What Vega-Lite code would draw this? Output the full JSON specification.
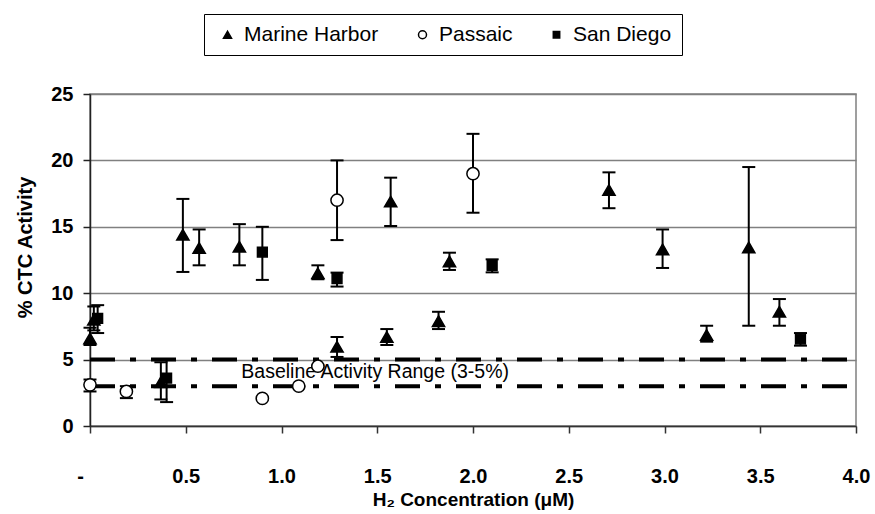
{
  "$schema": "https://vega.github.io/schema/vega-lite/v6.json",
  "width": 766,
  "height": 332,
  "autosize": "none",
  "padding": {"left": 90, "top": 94, "right": 19, "bottom": 88},
  "background": "white",
  "config": {
    "view": {"stroke": "#808080", "strokeWidth": 1.5},
    "font": "Liberation Sans"
  },
  "datasets": {
    "pts": [
      {"series": "Marine Harbor", "x": 0.0, "y": 6.6, "lo": 6.1, "hi": 7.4},
      {"series": "Marine Harbor", "x": 0.02, "y": 8.0, "lo": 7.2, "hi": 9.0},
      {"series": "Marine Harbor", "x": 0.37, "y": 3.3, "lo": 2.0, "hi": 4.8},
      {"series": "Marine Harbor", "x": 0.485, "y": 14.4, "lo": 11.6, "hi": 17.1},
      {"series": "Marine Harbor", "x": 0.57, "y": 13.4, "lo": 12.1, "hi": 14.8},
      {"series": "Marine Harbor", "x": 0.78, "y": 13.5, "lo": 12.1, "hi": 15.2},
      {"series": "Marine Harbor", "x": 1.19, "y": 11.5, "lo": 11.05, "hi": 12.1},
      {"series": "Marine Harbor", "x": 1.29, "y": 5.97, "lo": 5.2, "hi": 6.7},
      {"series": "Marine Harbor", "x": 1.55, "y": 6.7, "lo": 6.1, "hi": 7.3},
      {"series": "Marine Harbor", "x": 1.57, "y": 16.9, "lo": 15.06, "hi": 18.7},
      {"series": "Marine Harbor", "x": 1.82, "y": 7.9, "lo": 7.3, "hi": 8.6},
      {"series": "Marine Harbor", "x": 1.877, "y": 12.4, "lo": 11.75, "hi": 13.05},
      {"series": "Marine Harbor", "x": 2.71, "y": 17.77, "lo": 16.4, "hi": 19.1},
      {"series": "Marine Harbor", "x": 2.99, "y": 13.3, "lo": 11.9, "hi": 14.8},
      {"series": "Marine Harbor", "x": 3.22, "y": 6.85, "lo": 6.35, "hi": 7.55},
      {"series": "Marine Harbor", "x": 3.44, "y": 13.45, "lo": 7.55, "hi": 19.5},
      {"series": "Marine Harbor", "x": 3.6, "y": 8.6, "lo": 7.55, "hi": 9.56},
      {"series": "Passaic", "x": 0.0, "y": 3.1, "lo": 2.6, "hi": 3.5},
      {"series": "Passaic", "x": 0.19, "y": 2.6, "lo": 2.1, "hi": 3.0},
      {"series": "Passaic", "x": 0.9, "y": 2.08, "lo": 2.0, "hi": 2.15},
      {"series": "Passaic", "x": 1.09, "y": 3.0, "lo": 2.95, "hi": 3.05},
      {"series": "Passaic", "x": 1.19, "y": 4.5, "lo": 4.45, "hi": 4.55},
      {"series": "Passaic", "x": 1.29, "y": 17.0, "lo": 14.0, "hi": 20.0},
      {"series": "Passaic", "x": 2.0, "y": 19.0, "lo": 16.06, "hi": 22.0},
      {"series": "San Diego", "x": 0.04, "y": 8.1, "lo": 7.0, "hi": 9.1},
      {"series": "San Diego", "x": 0.4, "y": 3.6, "lo": 1.8, "hi": 5.0},
      {"series": "San Diego", "x": 0.9, "y": 13.1, "lo": 11.0, "hi": 15.0},
      {"series": "San Diego", "x": 1.29, "y": 11.1, "lo": 10.5, "hi": 11.55},
      {"series": "San Diego", "x": 2.1, "y": 12.1, "lo": 11.57, "hi": 12.55},
      {"series": "San Diego", "x": 3.71, "y": 6.55, "lo": 6.05, "hi": 7.0}
    ],
    "baseline": [{"y": 3}, {"y": 5}],
    "note": [{"x": 0.79, "y": 4.1, "text": "Baseline Activity Range (3-5%)"}]
  },
  "layer": [
    {
      "data": {"name": "baseline"},
      "mark": {"type": "rule", "color": "black", "strokeWidth": 4, "strokeDash": [25, 15, 6, 15]},
      "encoding": {
        "y": {"field": "y", "type": "quantitative", "scale": {"domain": [0, 25], "nice": false}},
        "x": {"datum": 0, "type": "quantitative", "scale": {"domain": [0, 4], "nice": false}},
        "x2": {"datum": 4}
      }
    },
    {
      "data": {"name": "note"},
      "mark": {"type": "text", "align": "left", "baseline": "middle", "fontSize": 19.5, "color": "black", "font": "Liberation Sans"},
      "encoding": {
        "x": {"field": "x", "type": "quantitative"},
        "y": {"field": "y", "type": "quantitative"},
        "text": {"field": "text"}
      }
    },
    {
      "data": {"name": "pts"},
      "mark": {"type": "rule", "color": "black", "strokeWidth": 2},
      "encoding": {
        "x": {"field": "x", "type": "quantitative"},
        "y": {"field": "lo", "type": "quantitative"},
        "y2": {"field": "hi"}
      }
    },
    {
      "data": {"name": "pts"},
      "mark": {"type": "tick", "orient": "horizontal", "color": "black", "size": 13, "thickness": 2, "opacity": 1},
      "encoding": {
        "x": {"field": "x", "type": "quantitative"},
        "y": {"field": "lo", "type": "quantitative"}
      }
    },
    {
      "data": {"name": "pts"},
      "mark": {"type": "tick", "orient": "horizontal", "color": "black", "size": 13, "thickness": 2, "opacity": 1},
      "encoding": {
        "x": {"field": "x", "type": "quantitative"},
        "y": {"field": "hi", "type": "quantitative"}
      }
    },
    {
      "data": {"name": "pts"},
      "mark": {"type": "point", "strokeWidth": 1.5, "size": 150, "opacity": 1, "fillOpacity": 1, "strokeOpacity": 1},
      "encoding": {
        "x": {
          "field": "x", "type": "quantitative",
          "scale": {"domain": [0, 4], "nice": false},
          "axis": {
            "title": "H₂ Concentration (μM)",
            "values": [0, 0.5, 1, 1.5, 2, 2.5, 3, 3.5, 4],
            "labelExpr": "datum.value === 0 ? '-' : format(datum.value, '.1f')",
            "labelOffset": {"condition": {"test": "datum.value === 0", "value": -10}, "value": 0},
            "grid": false,
            "labelFontSize": 20, "labelFontWeight": "bold", "labelColor": "black",
            "labelBaseline": "alphabetic", "labelPadding": 49, "labelFlush": false, "labelOverlap": false,
            "tickSize": 7, "tickColor": "#333333", "tickWidth": 1.5,
            "domainColor": "#333333", "domainWidth": 1.5,
            "titleFontSize": 19, "titleFontWeight": "bold", "titleColor": "black",
            "titleBaseline": "alphabetic", "titleY": 79
          }
        },
        "y": {
          "field": "y", "type": "quantitative",
          "scale": {"domain": [0, 25], "nice": false},
          "axis": {
            "title": "% CTC Activity",
            "values": [0, 5, 10, 15, 20, 25],
            "grid": true, "gridColor": "#808080", "gridWidth": 1.5,
            "labelFontSize": 20, "labelFontWeight": "bold", "labelColor": "black", "labelPadding": 10,
            "tickSize": 7, "tickColor": "#222222", "tickWidth": 1.5,
            "domainColor": "#222222", "domainWidth": 1.5,
            "titleFontSize": 20, "titleFontWeight": "bold", "titleColor": "black",
            "titleAngle": 270, "titleBaseline": "alphabetic", "titleAlign": "center",
            "titleX": -59, "titleY": 153
          }
        },
        "shape": {
          "field": "series", "type": "nominal",
          "scale": {"domain": ["Marine Harbor", "Passaic", "San Diego"], "range": ["triangle-up", "circle", "M-0.8,-0.8H0.8V0.8H-0.8Z"]},
          "legend": {
            "title": null, "orient": "none", "direction": "horizontal",
            "legendX": 114, "legendY": -80,
            "padding": 10, "strokeColor": "black", "fillColor": "white",
            "symbolSize": 64, "symbolOffset": 3, "symbolStrokeWidth": 1.5,
            "labelFontSize": 21, "labelColor": "black", "labelOffset": 6, "columnPadding": 30,
            "labelLimit": 300
          }
        },
        "fill": {
          "field": "series", "type": "nominal",
          "scale": {"domain": ["Marine Harbor", "Passaic", "San Diego"], "range": ["black", "white", "black"]}
        },
        "stroke": {
          "field": "series", "type": "nominal",
          "scale": {"domain": ["Marine Harbor", "Passaic", "San Diego"], "range": ["black", "black", "black"]}
        }
      }
    }
  ]
}
